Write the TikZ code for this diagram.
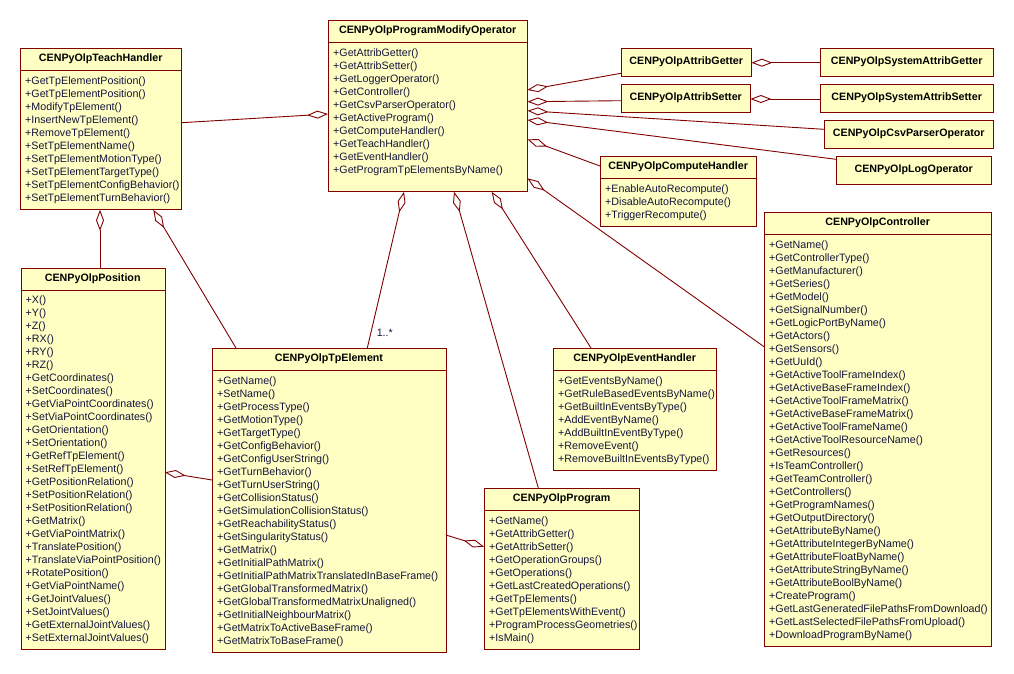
\documentclass[tikz,border=0pt]{standalone}
\usepackage{fontspec}
\setmainfont{Liberation Sans}
\usetikzlibrary{arrows.meta, positioning}
\definecolor{umlred}{RGB}{128,0,0}
\definecolor{umlyellow}{RGB}{255,255,196}
\definecolor{umlink}{RGB}{20,20,60}

\begin{document}
\begin{tikzpicture}[
        x=1pt, y=-1pt,
        classhead/.style={draw=umlred, fill=umlyellow, anchor=north west, minimum width=#1, minimum height=22pt, inner sep=0pt, font=\fontsize{10.7}{13}\selectfont\bfseries},
        classbody/.style={draw=umlred, fill=umlyellow, text width=#1-10pt, inner xsep=5pt, inner ysep=0pt, align=left, text=umlink, font=\fontsize{10.7}{13}\selectfont},
        agg/.style={draw=umlred, line width=0.9pt, -{Diamond[open, length=21pt, width=8pt]}}
    ]
        \useasboundingbox (0,0) rectangle (1014,673);

        \node[classhead=161pt] (teach) at (20,48) {CENPyOlpTeachHandler};
        \node[classbody=161pt, minimum height=139pt, below=0pt of teach] (teachM) {+GetTpElementPosition()\\+GetTpElementPosition()\\+ModifyTpElement()\\+InsertNewTpElement()\\+RemoveTpElement()\\+SetTpElementName()\\+SetTpElementMotionType()\\+SetTpElementTargetType()\\+SetTpElementConfigBehavior()\\+SetTpElementTurnBehavior()};

        \node[classhead=199pt] (op) at (328,20) {CENPyOlpProgramModifyOperator};
        \node[classbody=199pt, minimum height=149pt, below=0pt of op] (opM) {+GetAttribGetter()\\+GetAttribSetter()\\+GetLoggerOperator()\\+GetController()\\+GetCsvParserOperator()\\+GetActiveProgram()\\+GetComputeHandler()\\+GetTeachHandler()\\+GetEventHandler()\\+GetProgramTpElementsByName()\rule[-12.5pt]{0pt}{12.5pt}};

        \node[classhead=130pt, minimum height=28pt] (getter) at (621,48) {CENPyOlpAttribGetter};
        \node[classhead=173pt, minimum height=28pt] (sysget) at (820,48) {CENPyOlpSystemAttribGetter};
        \node[classhead=129pt, minimum height=28pt] (setter) at (621,84) {CENPyOlpAttribSetter};
        \node[classhead=173pt, minimum height=28pt] (sysset) at (820,84) {CENPyOlpSystemAttribSetter};
        \node[classhead=169pt, minimum height=28pt] (csv) at (824,120) {CENPyOlpCsvParserOperator};
        \node[classhead=155pt, minimum height=28pt] (log) at (836,156) {CENPyOlpLogOperator};

        \node[classhead=156pt] (compute) at (600,156) {CENPyOlpComputeHandler};
        \node[classbody=156pt, minimum height=48pt, below=0pt of compute] (computeM) {+EnableAutoRecompute()\\+DisableAutoRecompute()\\+TriggerRecompute()};

        \node[classhead=227pt] (ctrl) at (764,212) {CENPyOlpController};
        \node[classbody=227pt, minimum height=412pt, below=0pt of ctrl] (ctrlM) {+GetName()\\+GetControllerType()\\+GetManufacturer()\\+GetSeries()\\+GetModel()\\+GetSignalNumber()\\+GetLogicPortByName()\\+GetActors()\\+GetSensors()\\+GetUuId()\\+GetActiveToolFrameIndex()\\+GetActiveBaseFrameIndex()\\+GetActiveToolFrameMatrix()\\+GetActiveBaseFrameMatrix()\\+GetActiveToolFrameName()\\+GetActiveToolResourceName()\\+GetResources()\\+IsTeamController()\\+GetTeamController()\\+GetControllers()\\+GetProgramNames()\\+GetOutputDirectory()\\+GetAttributeByName()\\+GetAttributeIntegerByName()\\+GetAttributeFloatByName()\\+GetAttributeStringByName()\\+GetAttributeBoolByName()\\+CreateProgram()\\+GetLastGeneratedFilePathsFromDownload()\\+GetLastSelectedFilePathsFromUpload()\\+DownloadProgramByName()};

        \node[classhead=144pt] (pos) at (20.5,268) {CENPyOlpPosition};
        \node[classbody=144pt, minimum height=359pt, below=0pt of pos] (posM) {+X()\\+Y()\\+Z()\\+RX()\\+RY()\\+RZ()\\+GetCoordinates()\\+SetCoordinates()\\+GetViaPointCoordinates()\\+SetViaPointCoordinates()\\+GetOrientation()\\+SetOrientation()\\+GetRefTpElement()\\+SetRefTpElement()\\+GetPositionRelation()\\+SetPositionRelation()\\+SetPositionRelation()\\+GetMatrix()\\+GetViaPointMatrix()\\+TranslatePosition()\\+TranslateViaPointPosition()\\+RotatePosition()\\+GetViaPointName()\\+GetJointValues()\\+SetJointValues()\\+GetExternalJointValues()\\+SetExternalJointValues()};

        \node[classhead=233.5pt] (tpel) at (212,348) {CENPyOlpTpElement};
        \node[classbody=233.5pt, minimum height=282pt, below=0pt of tpel] (tpelM) {+GetName()\\+SetName()\\+GetProcessType()\\+GetMotionType()\\+GetTargetType()\\+GetConfigBehavior()\\+GetConfigUserString()\\+GetTurnBehavior()\\+GetTurnUserString()\\+GetCollisionStatus()\\+GetSimulationCollisionStatus()\\+GetReachabilityStatus()\\+GetSingularityStatus()\\+GetMatrix()\\+GetInitialPathMatrix()\\+GetInitialPathMatrixTranslatedInBaseFrame()\\+GetGlobalTransformedMatrix()\\+GetGlobalTransformedMatrixUnaligned()\\+GetInitialNeighbourMatrix()\\+GetMatrixToActiveBaseFrame()\\+GetMatrixToBaseFrame()};

        \node[classhead=163pt] (event) at (553,348) {CENPyOlpEventHandler};
        \node[classbody=163pt, minimum height=100pt, below=0pt of event] (eventM) {+GetEventsByName()\\+GetRuleBasedEventsByName()\\+GetBuiltInEventsByType()\\+AddEventByName()\\+AddBuiltInEventByType()\\+RemoveEvent()\\+RemoveBuiltInEventsByType()};

        \node[classhead=155pt] (prog) at (484,488) {CENPyOlpProgram};
        \node[classbody=155pt, minimum height=139pt, below=0pt of prog] (progM) {+GetName()\\+GetAttribGetter()\\+GetAttribSetter()\\+GetOperationGroups()\\+GetOperations()\\+GetLastCreatedOperations()\\+GetTpElements()\\+GetTpElementsWithEvent()\\+ProgramProcessGeometries()\\+IsMain()};

        \draw[agg] (teachM.east |- 0,122.7) -- (opM.west |- 0,114);
        \draw[agg] (getter.west |- 0,73.3) -- (opM.east |- 0,90);
        \draw[agg] (setter.west |- 0,100.7) -- (opM.east |- 0,101.7);
        \draw[agg] (csv.west |- 0,129.3) -- (opM.east |- 0,110.7);
        \draw[agg] (log.west |- 0,159.3) -- (opM.east |- 0,120);
        \draw[agg] (compute.west |- 0,166) -- (opM.east |- 0,139.3);
        \draw[agg] (ctrlM.west |- 0,346.7) -- (opM.east |- 0,178.3);
        \draw[agg] (tpel.north -| 367.3,0) -- node[pos=0.1, right=2pt, font=\fontsize{10.7}{13}\selectfont, text=umlink] {1..*} (opM.south -| 404,0);
        \draw[agg] (prog.north -| 538.3,0) -- (opM.south -| 454,0);
        \draw[agg] (event.north -| 591,0) -- (opM.south -| 491.7,0);
        \draw[agg] (pos.north -| 100,0) -- (teachM.south -| 100,0);
        \draw[agg] (tpel.north -| 236,0) -- (teachM.south -| 153.3,0);
        \draw[agg] (tpelM.west |- 0,480) -- (posM.east |- 0,472.3);
        \draw[agg] (tpelM.east |- 0,535) -- (progM.west |- 0,546.7);
        \draw[agg] (sysget.west |- 0,62.7) -- (getter.east |- 0,62.7);
        \draw[agg] (sysset.west |- 0,99) -- (setter.east |- 0,99);
    \end{tikzpicture}
\end{document}
